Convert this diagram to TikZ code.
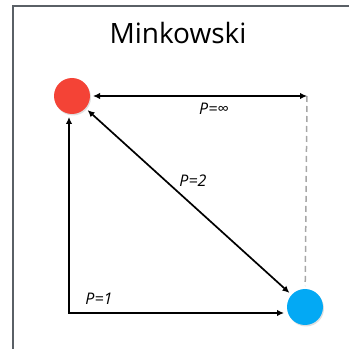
\documentclass[tikz,border=0pt]{standalone}
\usepackage{fontspec}
\setmainfont{Open Sans}
\definecolor{MkRed}{HTML}{F44336}
\definecolor{MkBlue}{HTML}{03A9F4}
\definecolor{MkFrame}{HTML}{5A6066}
\usetikzlibrary{positioning,arrows.meta,shadows,calc}
\begin{document}
\begin{tikzpicture}[x=1pt,y=1pt,
      pt/.style={circle, minimum size=36pt, inner sep=0pt, outer sep=3pt,
        drop shadow={opacity=0.25, shadow xshift=1pt, shadow yshift=-1.5pt}},
      dist/.style={line width=1.7pt, {Latex[length=7pt,width=6.5pt]}-{Latex[length=7pt,width=6.5pt]}},
      lbl/.style={font=\fontsize{16}{18}\selectfont\itshape}]
      \useasboundingbox (0,0) rectangle (349,349);
      \draw[MkFrame, line width=1.8pt] (13,-2) |- (351,343);
      \node[font=\fontsize{28}{30}\selectfont] (title) at (178,316) {Minkowski};
      \node[pt, fill=MkRed] (r) at (72,253) {};
      \node[pt, fill=MkBlue] (b) at (305,42) {};
      \coordinate (tr) at (307,253);
      \coordinate (bl) at (69,36);
      \draw[gray!70, line width=1.5pt, dash pattern=on 6pt off 4pt] (tr) -- (b);
      \draw[dist] (r) -- (tr);
      \draw[dist] (r) -- (b);
      \draw[dist] (bl |- r.south) -- (bl) -- (b.west |- bl);
      \node[lbl] (pinf) at (214,240) {P=∞};
      \node[lbl] (p2) at (193,168) {P=2};
      \node[lbl] (p1) at (99,50) {P=1};
    \end{tikzpicture}
\end{document}
